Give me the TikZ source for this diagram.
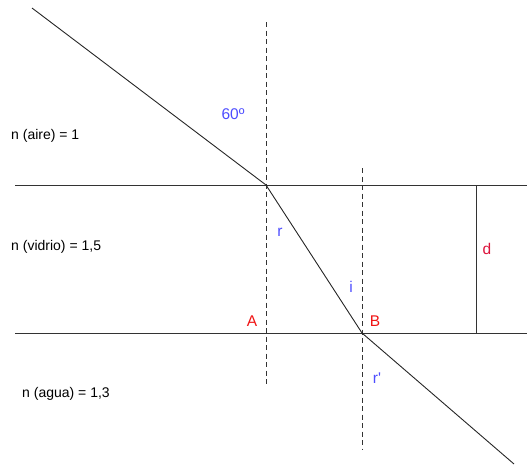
\documentclass[tikz,border=0pt]{standalone}
\usepackage{fontspec}
\setmainfont{Liberation Sans}
\begin{document}
\begin{tikzpicture}[x=1pt,y=-1pt,
  ln/.style={draw=black!80,line width=0.9pt},
  ray/.style={draw=black!85,line width=0.9pt},
  nrm/.style={draw=black!80,line width=0.8pt,dash pattern=on 5pt off 3.5pt},
  lab/.style={font=\fontsize{14}{16}\selectfont,inner sep=0pt},
  clab/.style={font=\fontsize{15.5}{18}\selectfont,inner sep=0pt},
  blu/.style={clab,text={rgb,255:red,77;green,77;blue,255}},
  rd/.style={clab,text={rgb,255:red,240;green,20;blue,20}},
  crim/.style={clab,text={rgb,255:red,220;green,20;blue,60}}]
\useasboundingbox (0,0) rectangle (527,467);
% points
\coordinate (top1) at (15,185);
\coordinate (top2) at (527,185);
\coordinate (bot1) at (15,333);
\coordinate (bot2) at (527,333);
\coordinate (P) at (266,185);
\coordinate (Q) at (362,333);
\coordinate (S) at (32,8);
\coordinate (E) at (514,464);
\coordinate (n1a) at (266,22);
\coordinate (n1b) at (266,384);
\coordinate (n2a) at (362,168);
\coordinate (n2b) at (362,450);
\coordinate (d1) at (476,185);
\coordinate (d2) at (476,333);
% lines
\draw[ln] (top1) -- (top2);
\draw[ln] (bot1) -- (bot2);
\draw[nrm] (n1a) -- (n1b);
\draw[nrm] (n2a) -- (n2b);
\draw[ray] (S) -- (P) -- (Q) -- (E);
\draw[ln] (d1) -- (d2);
% labels
\node[lab,anchor=base west] (aire) at (11,139) {n (aire) = 1};
\node[lab,anchor=base west] (vidrio) at (11,250) {n (vidrio) = 1,5};
\node[lab,anchor=base west] (agua) at (22,397) {n (agua) = 1,3};
\node[blu] (ang) at (233,114) {60º};
\node[blu] (r) at (280,232) {r};
\node[blu] (i) at (351,287) {i};
\node[blu] (rp) at (377,378) {r\textquotesingle};
\node[rd] (A) at (252,321) {A};
\node[rd] (B) at (375,321) {B};
\node[crim] (d) at (487,249) {d};
\end{tikzpicture}
\end{document}
